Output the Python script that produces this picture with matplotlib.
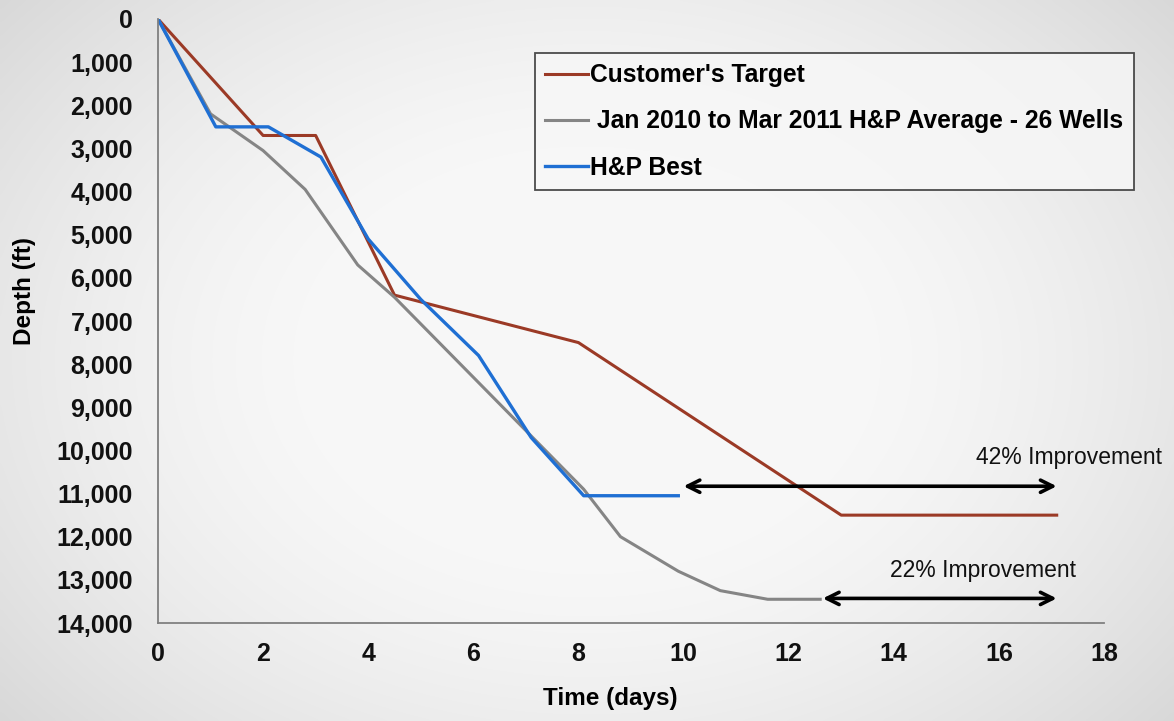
import numpy as np
import matplotlib
matplotlib.use("Agg")
import matplotlib.pyplot as plt
from matplotlib.ticker import FuncFormatter

plt.rcParams['font.family'] = ['Liberation Sans', 'DejaVu Sans']
plt.rcParams['font.weight'] = 'bold'

# Drilling curves: time (days) vs depth (ft)
target_days = [0, 2, 3, 4.5, 8, 13, 17.1]
target_depth = [0, 2700, 2700, 6400, 7500, 11500, 11500]

avg_days = [0, 1, 2, 2.8, 3.8, 4.5, 8.1, 8.8, 9.9, 10.7, 11.6, 12.6]
avg_depth = [0, 2200, 3050, 3950, 5700, 6450, 10900, 12000, 12800, 13250, 13450, 13450]

best_days = [0, 1.1, 2.1, 3.1, 4.0, 5.0, 6.1, 7.1, 8.1, 9.9]
best_depth = [0, 2500, 2500, 3200, 5100, 6500, 7800, 9700, 11050, 11050]

labels = ["Customer's Target", " Jan 2010 to Mar 2011 H&P Average - 26 Wells", "H&P Best"]
colors = ["#9b3a26", "#858585", "#1f6fd3"]

# Improvement spans: (start day, end day, depth, label, label day, label depth)
spans = [
    (10.0, 17.1, 10830, "42% Improvement", 17.33, 10170),
    (12.65, 17.1, 13430, "22% Improvement", 15.7, 12780),
]

x_ticks = list(range(0, 19, 2))
y_ticks = list(range(0, 14001, 1000))

fig = plt.figure(figsize=(11.74, 7.21), dpi=100)

# soft light-grey backdrop, lighter toward the middle
bg = fig.add_axes([0, 0, 1, 1], zorder=-10)
yy, xx = np.mgrid[-1:1:300j, -1:1:400j]
r = np.sqrt((xx * 0.95) ** 2 + (yy * 0.8) ** 2)
shade = 0.972 - 0.16 * np.clip(r - 0.4, 0, None) ** 1.5
bg.imshow(np.dstack([shade, shade, shade]), aspect='auto', extent=[0, 1, 0, 1],
          interpolation='bicubic')
bg.set_axis_off()

ax = fig.add_axes([158 / 1174, 1 - 623 / 721, (1104 - 158) / 1174, (623 - 19) / 721])
ax.set_facecolor('none')

ax.plot(target_days, target_depth, color=colors[0], lw=2.2, label=labels[0])
ax.plot(avg_days, avg_depth, color=colors[1], lw=2.2, label=labels[1])
ax.plot(best_days, best_depth, color=colors[2], lw=2.4, label=labels[2])

for x0, x1, d, txt, tx, ty in spans:
    ax.annotate("", xy=(x0, d), xytext=(x1, d),
                arrowprops=dict(arrowstyle='<->', color='black', lw=2.6,
                                mutation_scale=22, shrinkA=0, shrinkB=0))
    ax.text(tx, ty, txt, ha='center', va='center', fontsize=16.5, fontweight='normal',
            color='#111111')

ax.set_xlim(0, 18)
ax.set_ylim(14000, 0)
ax.set_xticks(x_ticks)
ax.set_yticks(y_ticks)
ax.yaxis.set_major_formatter(FuncFormatter(lambda v, p: f"{int(v):,}"))
ax.tick_params(axis='y', length=0, labelsize=18, pad=18, colors='#111111')
ax.tick_params(axis='x', length=0, labelsize=18, pad=14, colors='#111111')
for lab in ax.get_xticklabels() + ax.get_yticklabels():
    lab.set_fontweight('bold')
ax.spines['top'].set_visible(False)
ax.spines['right'].set_visible(False)
for s in ('left', 'bottom'):
    ax.spines[s].set_color('#808080')
    ax.spines[s].set_linewidth(1.3)

ax.set_xlabel("Time (days)", fontsize=17.5, fontweight='bold')
ax.set_ylabel("Depth (ft)", fontsize=17.5, fontweight='bold')
ax.xaxis.set_label_coords((610 - 158) / 946, -(698 - 623) / 604)
ax.yaxis.set_label_coords(-(158 - 24) / 946, 1 - (291 - 19) / 604)
ax.xaxis.label.set_va('center')
ax.yaxis.label.set_va('center')

leg = ax.legend(loc='upper left', bbox_to_anchor=(535 / 1174, 1 - 53 / 721),
                bbox_transform=fig.transFigure, fontsize=17.7, frameon=True,
                fancybox=False, handlelength=1.75, handletextpad=0.08,
                labelspacing=0.9, borderpad=0.42, borderaxespad=0)
leg.get_frame().set_edgecolor('#222222')
leg.get_frame().set_linewidth(1.3)
leg.get_frame().set_facecolor('#f7f7f7')
for t in leg.get_texts():
    t.set_fontweight('bold')

fig.savefig("out.png", dpi=100)
